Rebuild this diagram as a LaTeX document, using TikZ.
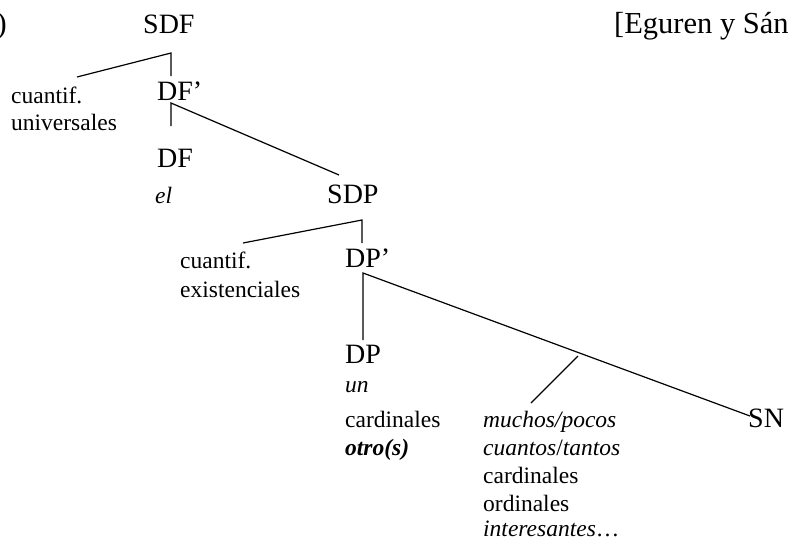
\documentclass[tikz,border=0pt]{standalone}
\usepackage{fontspec}
\setmainfont{Liberation Serif}
\begin{document}
\begin{tikzpicture}[x=1pt,y=-1pt,
 big/.style={font=\fontsize{28}{33}\selectfont, inner sep=0pt, anchor=base west},
 head/.style={font=\fontsize{30.5}{36}\selectfont, inner sep=0pt, anchor=base west},
 small/.style={font=\fontsize{23.5}{28}\selectfont, inner sep=0pt, anchor=base west},
 edge/.style={line width=1.2pt}]
\useasboundingbox (0,0) rectangle (788,539);
\clip (0,0) rectangle (788,539);
% labels
\node[head, anchor=base east] (num) at (7,33) {)};
\node[big] (sdf) at (143,33) {SDF};
\node[head] (ref) at (614,33) {[Eguren y Sán};
\node[small] (cu1) at (11,103) {cuantif.};
\node[small] (univ) at (11,130) {universales};
\node[big] (dfp) at (157,100) {DF’};
\node[big] (df) at (157,167) {DF};
\node[small] (el) at (155,203) {\textit{el}};
\node[big] (sdp) at (327,203) {SDP};
\node[small] (cu2) at (180,268) {cuantif.};
\node[small] (exis) at (180,297) {existenciales};
\node[big] (dpp) at (345,267) {DP’};
\node[big] (dp) at (345,363) {DP};
\node[small] (un) at (345,392) {\textit{un}};
\node[small] (card1) at (345,427) {cardinales};
\node[small] (otro) at (345,455) {\textbf{\textit{otro(s)}}};
\node[small] (much) at (483,427) {\textit{muchos/pocos}};
\node[small] (cuant) at (483,455) {\textit{cuantos}/\textit{tantos}};
\node[small] (card2) at (483,483) {cardinales};
\node[small] (ord) at (483,511) {ordinales};
\node[small] (inter) at (483,536) {\textit{interesantes}…};
\node[big] (sn) at (748,427) {SN};
% branch points
\coordinate (a1) at (171,53);
\coordinate (b1l) at (77,77);
\coordinate (b1d) at (171,76);
\coordinate (a2) at (171,103);
\coordinate (a2d) at (171,126);
\coordinate (a2r) at (339,175);
\coordinate (a3) at (362,220);
\coordinate (a3l) at (243,243);
\coordinate (a3d) at (362,243);
\coordinate (a4) at (363,273);
\coordinate (a4d) at (363,340);
\coordinate (a4r) at (750,416);
\coordinate (br1) at (578,356);
\coordinate (br2) at (531,403);
% connectors
\draw[edge] (b1l) -- (a1) -- (b1d);
\draw[edge] (a2d) -- (a2) -- (a2r);
\draw[edge] (a3l) -- (a3) -- (a3d);
\draw[edge] (a4d) -- (a4) -- (a4r);
\draw[edge] (br1) -- (br2);
\end{tikzpicture}
\end{document}
